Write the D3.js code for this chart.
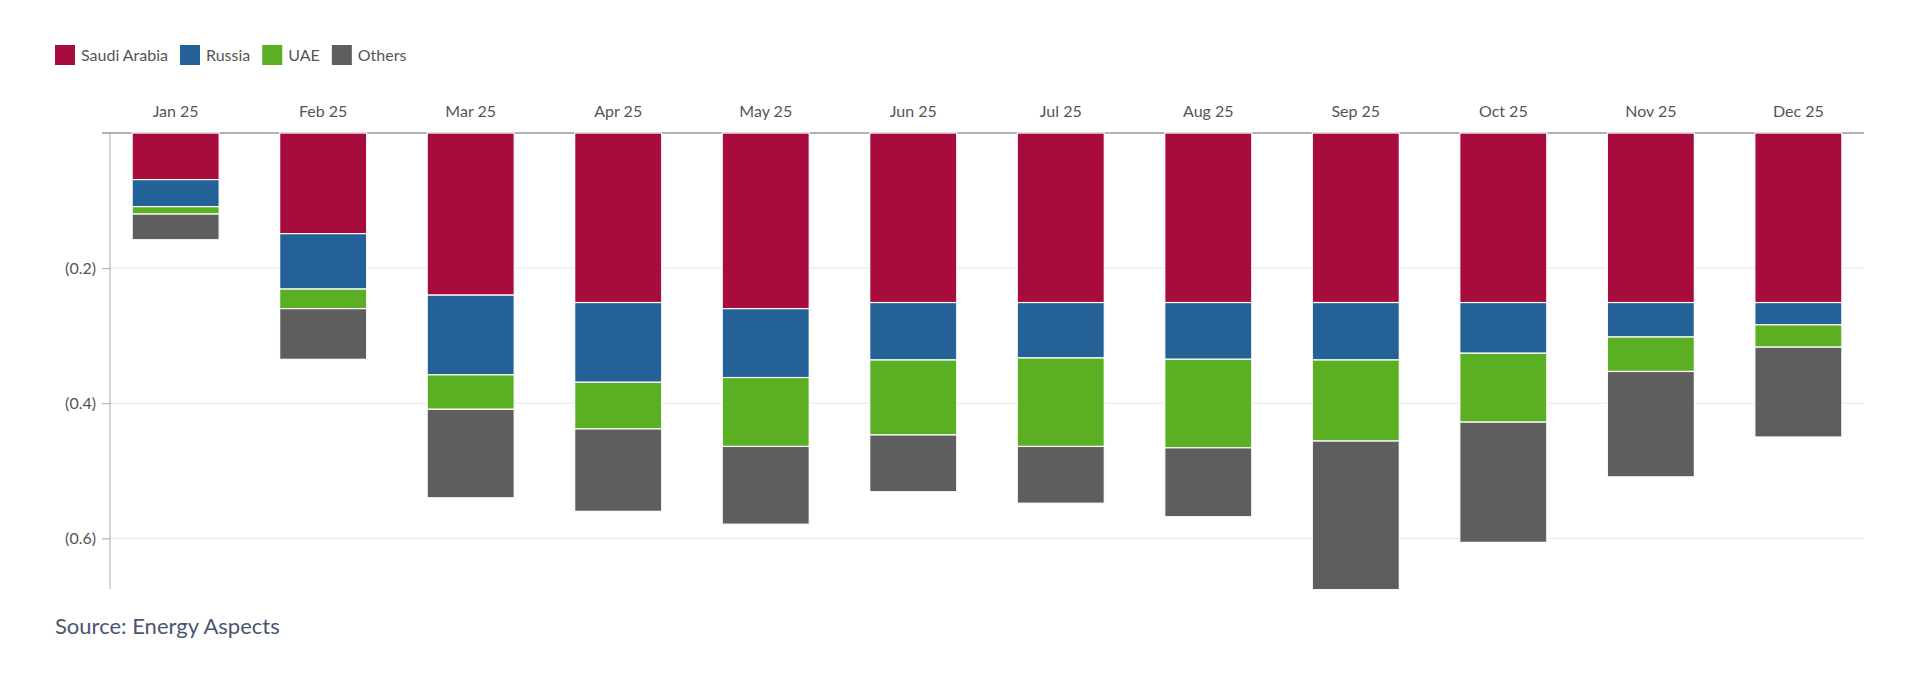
<!DOCTYPE html>
<html>
<head>
<meta charset="utf-8">
<script src="https://cdn.jsdelivr.net/npm/d3@7"></script>
<style>
body{margin:0;background:#fff;font-family:Lato,"Open Sans",sans-serif;}
</style>
</head>
<body>
<script>
// data (negative = cuts)
const months = ["Jan 25","Feb 25","Mar 25","Apr 25","May 25","Jun 25","Jul 25","Aug 25","Sep 25","Oct 25","Nov 25","Dec 25"];
const seriesNames = ["Saudi Arabia","Russia","UAE","Others"];
const colors = ["#a80c3c","#246196","#5ab022","#5e5e5e"];
const saudi  = [0.069,0.149,0.240,0.251,0.260,0.251,0.251,0.251,0.251,0.251,0.251,0.251];
const russia = [0.040,0.082,0.118,0.118,0.102,0.085,0.082,0.084,0.085,0.075,0.051,0.033];
const uae    = [0.011,0.029,0.051,0.069,0.102,0.111,0.131,0.131,0.120,0.102,0.051,0.033];
const others = [0.038,0.075,0.131,0.122,0.115,0.084,0.084,0.102,0.220,0.178,0.156,0.133];
const yTicks = [-0.2,-0.4,-0.6];

const w = 1920, h = 686;
const mLeft = 110, mRight = 1864, mTop = 133, mBottom = 589;
const svg = d3.select("body").append("svg").attr("width", w).attr("height", h);

const x = d3.scaleBand().domain(months).range([mLeft, mRight]).paddingInner(0.41).paddingOuter(0.15);
const y = d3.scaleLinear().domain([0, -0.675]).range([mTop, mBottom]);

// grid
svg.selectAll(".grid").data(yTicks).enter().append("line")
  .attr("x1", mLeft).attr("x2", mRight)
  .attr("y1", d => y(d)).attr("y2", d => y(d))
  .attr("stroke", "#e6e6e6");

const yAxis = svg.append("g").attr("transform", `translate(${mLeft},0)`)
  .call(d3.axisLeft(y).tickValues(yTicks).tickSize(8).tickFormat(d => "(" + Math.abs(d).toFixed(1) + ")"));
yAxis.select(".domain").attr("stroke", "#aaa").attr("d", `M0,${mTop}V${mBottom}`);
yAxis.selectAll(".tick line").attr("stroke", "#aaa");
yAxis.selectAll("text").attr("fill", "#555").style("font-size", "16px").style("font-family", "Lato").attr("x", -14);

// top baseline
svg.append("line").attr("x1", mLeft - 8).attr("x2", mRight).attr("y1", mTop).attr("y2", mTop).attr("stroke", "#999").attr("stroke-width", 1.5);

const xAxis = svg.append("g").attr("transform", `translate(0,${mTop})`)
  .call(d3.axisTop(x).tickSize(0).tickPadding(16));
xAxis.select(".domain").remove();
xAxis.selectAll("text").attr("fill", "#555").style("font-size", "16px").style("font-family", "Lato");

// stacks
const table = months.map((m, i) => ({month: m, "Saudi Arabia": saudi[i], "Russia": russia[i], "UAE": uae[i], "Others": others[i]}));
const stacked = d3.stack().keys(seriesNames)(table);
svg.selectAll(".series").data(stacked).enter().append("g")
  .attr("fill", (d, i) => colors[i])
  .selectAll("rect").data(d => d).enter().append("rect")
  .attr("x", d => x(d.data.month))
  .attr("width", x.bandwidth())
  .attr("y", d => y(-d[0]))
  .attr("height", d => y(-d[1]) - y(-d[0]))
  .attr("stroke", "#fff").attr("stroke-width", 1.2);

// legend
const lg = svg.append("g").attr("transform", "translate(55,45)");
let lx = 0;
seriesNames.forEach((n, i) => {
  lg.append("rect").attr("x", lx).attr("y", 0).attr("width", 20).attr("height", 20).attr("fill", colors[i]);
  const t = lg.append("text").attr("x", lx + 26).attr("y", 16).text(n)
    .attr("fill", "#555").style("font-size", "16px").style("font-family", "Lato");
  lx += 26 + t.node().getComputedTextLength() + 12;
});

svg.append("text").attr("x", 55).attr("y", 634).text("Source: Energy Aspects")
  .attr("fill", "#4a5670").style("font-size", "22px").style("font-family", "Lato");
</script>
</body>
</html>
